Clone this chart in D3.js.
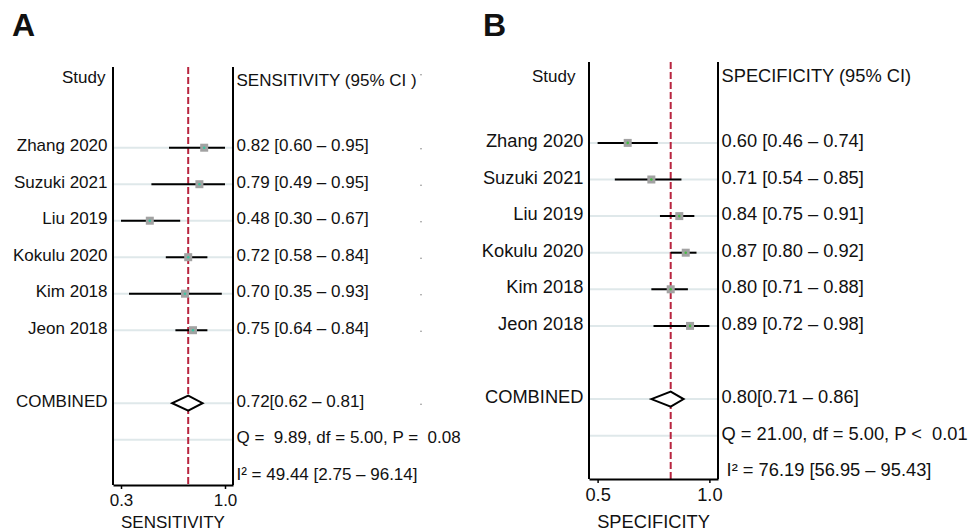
<!DOCTYPE html>
<html>
<head>
<meta charset="utf-8">
<script src="https://cdn.jsdelivr.net/npm/d3@7"></script>
<style>
  body { margin: 0; background: #fff; }
  text { font-family: "Liberation Sans", Arial, Helvetica, sans-serif; fill: #111; }
</style>
</head>
<body>
<svg id="chart" width="973" height="532"></svg>
<script>
// Studies (same order in both panels)
const studies = ["Zhang 2020", "Suzuki 2021", "Liu 2019", "Kokulu 2020", "Kim 2018", "Jeon 2018"];

// Sensitivity
const sensEst = [0.82, 0.79, 0.48, 0.72, 0.70, 0.75];
const sensLo = [0.60, 0.49, 0.30, 0.58, 0.35, 0.64];
const sensHi = [0.95, 0.95, 0.67, 0.84, 0.93, 0.84];
const sensPooled = [0.72, 0.62, 0.81];
const sensHet = ["Q =  9.89, df = 5.00, P =  0.08", "I² = 49.44 [2.75 – 96.14]"];

// Specificity
const specEst = [0.60, 0.71, 0.84, 0.87, 0.80, 0.89];
const specLo = [0.46, 0.54, 0.75, 0.80, 0.71, 0.72];
const specHi = [0.74, 0.85, 0.91, 0.92, 0.88, 0.98];
const specPooled = [0.80, 0.71, 0.86];
const specHet = ["Q = 21.00, df = 5.00, P <  0.01", " I² = 76.19 [56.95 – 95.43]"];

const svg = d3.select("#chart");
const fmt = d3.format(".2f");
// round half up to one decimal (0.95 -> 1.0)
const fmtTick = d => d3.format(".1f")(Math.round(d * 10 + 1e-6) / 10);

function drawPanel(p) {
    const g = svg.append("g");
    const lo = d3.min(p.lo), hi = d3.max(p.hi);
    const pad = (hi - lo) * 0.077;
    const x = d3.scaleLinear().domain([lo - pad, hi + pad]).range([p.left, p.right]);
    // row 0 = header, 2..7 studies, 9 combined, 10 Q, 11 I2
    const y = d3.scaleLinear().domain([0, 1]).range([p.row0, p.row0 + p.step]);

    // panel letter
    g.append("text").attr("x", p.letterX).attr("y", 36)
        .style("font-size", "32px").style("font-weight", "bold").text(p.letter);

    // light row lines
    const gridRows = d3.range(2, 8).concat([9, 10]);
    g.selectAll(".grid").data(gridRows).enter().append("line")
        .attr("x1", p.left).attr("x2", p.right)
        .attr("y1", d => y(d)).attr("y2", d => y(d))
        .style("stroke", "#dfe8ea").style("stroke-width", 2);

    // pooled reference line
    g.append("line")
        .attr("x1", x(p.pooled[0])).attr("x2", x(p.pooled[0]))
        .attr("y1", p.top).attr("y2", p.bottom)
        .style("stroke", "#b8253f").style("stroke-width", 2)
        .style("stroke-dasharray", "7,3");

    // study CIs
    g.selectAll(".ci").data(studies).enter().append("line")
        .attr("x1", (d, i) => x(p.lo[i])).attr("x2", (d, i) => x(p.hi[i]))
        .attr("y1", (d, i) => y(i + 2)).attr("y2", (d, i) => y(i + 2))
        .style("stroke", "#000").style("stroke-width", 2);

    g.selectAll(".sq").data(studies).enter().append("rect")
        .attr("x", (d, i) => x(p.est[i]) - 4).attr("y", (d, i) => y(i + 2) - 4)
        .attr("width", 8).attr("height", 8)
        .style("fill", "#a2a2a2");
    g.selectAll(".dot").data(studies).enter().append("circle")
        .attr("cx", (d, i) => x(p.est[i])).attr("cy", (d, i) => y(i + 2))
        .attr("r", 1.3).style("fill", p.dotColor);

    // pooled diamond
    const yc = y(9);
    g.append("path")
        .attr("d", `M${x(p.pooled[1])},${yc}L${x(p.pooled[0])},${yc - 7.5}L${x(p.pooled[2])},${yc}L${x(p.pooled[0])},${yc + 7.5}Z`)
        .style("fill", "#fff").style("stroke", "#000").style("stroke-width", 2);

    // frame
    g.append("line").attr("x1", p.left).attr("x2", p.left).attr("y1", p.top).attr("y2", p.bottom)
        .style("stroke", "#000").style("stroke-width", 2);
    g.append("line").attr("x1", p.right).attr("x2", p.right).attr("y1", p.top).attr("y2", p.bottom)
        .style("stroke", "#000").style("stroke-width", 2);

    // x axis: ticks at the CI extremes
    const axis = g.append("g").attr("transform", `translate(0,${p.bottom})`)
        .call(d3.axisBottom(x).tickValues([lo, hi]).tickFormat(fmtTick)
            .tickSize(4).tickSizeOuter(0).tickPadding(5));
    axis.select(".domain").style("stroke", "#000").style("stroke-width", 2);
    axis.selectAll(".tick line").style("stroke", "#000").style("stroke-width", 1.5);
    axis.selectAll(".tick text")
        .style("font-family", "Liberation Sans, Arial, sans-serif")
        .style("font-size", p.fs + "px").style("fill", "#111");

    g.append("text").attr("x", (p.left + p.right) / 2).attr("y", p.titleY)
        .attr("text-anchor", "middle").style("font-size", p.fs + "px").text(p.title);

    // left column
    g.append("text").attr("x", p.labelX - p.studyDx).attr("y", p.studyY)
        .attr("text-anchor", "end").style("font-size", "17px").text("Study");
    g.selectAll(".lab").data(studies).enter().append("text")
        .attr("x", p.labelX).attr("y", (d, i) => y(i + 2) + p.base)
        .attr("text-anchor", "end").style("font-size", p.fs + "px").text(d => d);
    g.append("text").attr("x", p.labelX).attr("y", y(9) + p.base)
        .attr("text-anchor", "end").style("font-size", p.fs + "px").text("COMBINED");

    // right column
    g.append("text").attr("x", p.valX).attr("y", p.headY)
        .style("font-size", p.fs + "px").text(p.header);
    g.selectAll(".val").data(studies).enter().append("text")
        .attr("x", p.valX).attr("y", (d, i) => y(i + 2) + p.base)
        .style("font-size", p.fs + "px")
        .text((d, i) => `${fmt(p.est[i])} [${fmt(p.lo[i])} – ${fmt(p.hi[i])}]`);
    g.append("text").attr("x", p.valX).attr("y", y(9) + p.base)
        .style("font-size", p.fs + "px")
        .text(`${fmt(p.pooled[0])}[${fmt(p.pooled[1])} – ${fmt(p.pooled[2])}]`);
    g.selectAll(".het").data(p.het).enter().append("text")
        .attr("x", p.valX).attr("y", (d, i) => y(i + 10) + p.base)
        .style("font-size", p.fs + "px").style("white-space", "pre")
        .attr("xml:space", "preserve").text(d => d);

    // faint marks at the far right of the text column
    if (p.markX) {
        g.selectAll(".mark").data([0, 2, 3, 4, 5, 6, 7, 9]).enter().append("circle")
            .attr("cx", p.markX).attr("cy", d => y(d) + (d === 0 ? 0 : 1))
            .attr("r", 0.8).style("fill", "#888");
    }
}

drawPanel({
    letter: "A", letterX: 12, title: "SENSITIVITY", header: "SENSITIVITY (95% CI )",
    est: sensEst, lo: sensLo, hi: sensHi, pooled: sensPooled, het: sensHet,
    left: 113, right: 233, top: 67, bottom: 485, row0: 74.7, step: 36.5,
    fs: 17, base: 3.3, labelX: 107.5, studyDx: 2, studyY: 83, valX: 236.5, headY: 85.7,
    titleY: 528, dotColor: "#3cc4a0", markX: 421
});

drawPanel({
    letter: "B", letterX: 483, title: "SPECIFICITY", header: "SPECIFICITY (95% CI)",
    est: specEst, lo: specLo, hi: specHi, pooled: specPooled, het: specHet,
    left: 589, right: 718, top: 62, bottom: 479, row0: 69.7, step: 36.6,
    fs: 18.3, base: 4, labelX: 583.5, studyDx: 8, studyY: 82.3, valX: 721.5, headY: 81.7,
    titleY: 528, dotColor: "#44bb44", markX: null
});
</script>
</body>
</html>
